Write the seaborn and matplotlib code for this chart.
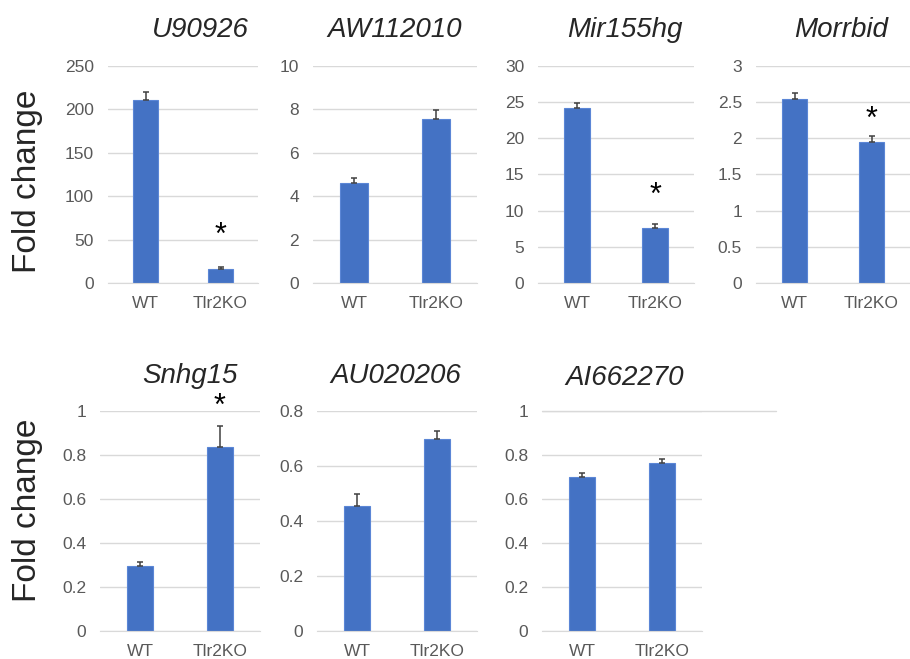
import numpy as np
import pandas as pd
import matplotlib
matplotlib.use("Agg")
import matplotlib.pyplot as plt
import seaborn as sns

# values
genes = ["U90926", "AW112010", "Mir155hg", "Morrbid", "Snhg15", "AU020206", "AI662270"]
groups = ["WT", "Tlr2KO"]
wt_mean = [211, 4.6, 24.2, 2.54, 0.295, 0.455, 0.70]
ko_mean = [16, 7.55, 7.6, 1.95, 0.835, 0.70, 0.764]
wt_err = [9, 0.22, 0.7, 0.09, 0.02, 0.045, 0.02]
ko_err = [3, 0.4, 0.6, 0.08, 0.095, 0.028, 0.02]
y_max = [250, 10, 30, 3, 1, 0.8, 1]
y_step = [50, 2, 5, 0.5, 0.2, 0.2, 0.2]
star_y = [54, None, 12, 2.26, 1.02, None, None]   # asterisk over Tlr2KO

BLUE = "#4472C4"
GRID = "#D9D9D9"
TICK = "#595959"

sns.set_style("white")
plt.rcParams["font.family"] = ["Liberation Sans", "DejaVu Sans"]

W, H = 910, 659
fig = plt.figure(figsize=(W / 100, H / 100), dpi=100)

# panel boxes in pixels: left, right, top, bottom
boxes = [(108, 258, 66, 283), (313, 477, 66, 283), (538, 694, 66, 283), (756, 910, 66, 283),
         (100, 260, 411, 631), (317, 477, 411, 631), (542, 702, 411, 631)]
title_x = [200, 395, 625, 841, 190, 396, 625]
title_base = [37, 37, 37, 37, 383, 383, 385]

for i, g in enumerate(genes):
    l, r, t, b = boxes[i]
    ax = fig.add_axes([l / W, 1 - b / H, (r - l) / W, (b - t) / H])
    df = pd.DataFrame({"group": groups, "value": [wt_mean[i], ko_mean[i]]})
    sns.barplot(data=df, x="group", y="value", ax=ax, color=BLUE, saturation=1,
                width=0.33, errorbar=None, edgecolor="#5B86D6", linewidth=0.8, zorder=2)
    ax.errorbar([0, 1], df["value"], yerr=[[0, 0], [wt_err[i], ko_err[i]]], fmt="none",
                ecolor="#404040", elinewidth=1.1, capsize=2.5, capthick=1.1, zorder=3)
    ax.set_xlim(-0.5, 1.5)
    ax.set_ylim(0, y_max[i])
    ticks = np.arange(0, y_max[i] + y_step[i] / 2, y_step[i])
    ax.set_yticks(ticks)
    ax.set_yticklabels([f"{v:g}" for v in np.round(ticks, 2)])
    ax.yaxis.grid(True, color=GRID, lw=1)
    ax.set_axisbelow(True)
    for s in ["top", "right", "left"]:
        ax.spines[s].set_visible(False)
    ax.spines["bottom"].set_color(GRID)
    ax.tick_params(axis="both", length=0, labelsize=12.5, labelcolor=TICK)
    ax.tick_params(axis="x", pad=9)
    ax.tick_params(axis="y", pad=10)
    ax.set_xlabel("")
    ax.set_ylabel("")
    if star_y[i] is not None:
        ax.text(1, star_y[i], "*", ha="center", va="center", fontsize=22, color="black")
    if g == "AI662270":
        ax.axhline(1, xmin=0, xmax=(776 - l) / (r - l), color=GRID, lw=1, clip_on=False)
    fig.text(title_x[i] / W, 1 - title_base[i] / H, g, ha="center", va="baseline",
             fontsize=20, style="italic")

fig.text(28 / W, 1 - 181 / H, "Fold change", rotation=90, ha="center", va="center", fontsize=24)
fig.text(28 / W, 1 - 510 / H, "Fold change", rotation=90, ha="center", va="center", fontsize=24)

fig.savefig("out.png", dpi=100)
